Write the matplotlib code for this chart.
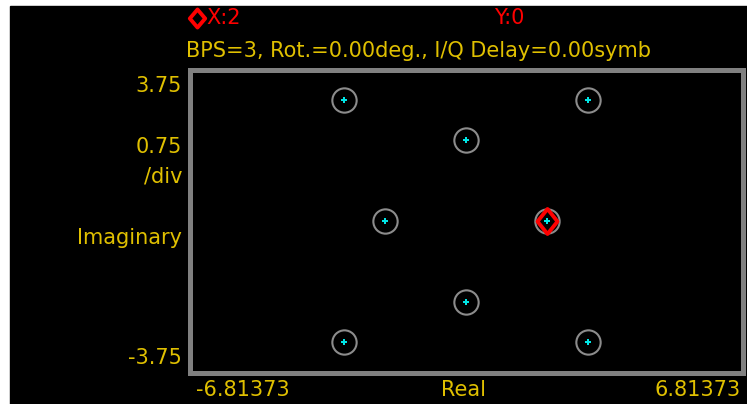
import matplotlib
matplotlib.use("Agg")
import matplotlib.pyplot as plt
from matplotlib.patches import Rectangle
from matplotlib.path import Path

# ── Constellation data (8-QAM, BPS=3) ───────────────────────────────────────
real = [-3, 3, 0, -2, 2, 0, -3, 3]
imag = [3, 3, 2, 0, 0, -2, -3, -3]
marker_x, marker_y = 2, 0
x_lim = 6.81373
y_lim = 3.75
y_div = 0.75

YELLOW = "#E0C000"
RED = "#FF0000"
GRAY = "#808080"
CYAN = "#00E5E5"

plt.rcParams["font.family"] = ["DejaVu Sans"]

W, H = 747, 404
fig = plt.figure(figsize=(W / 100, H / 100), dpi=100, facecolor="white")

def px(x, y):
    return x / W, 1 - y / H

def make_diamond(w):
    return Path([(0, 1), (w, 0), (0, -1), (-w, 0), (0, 1)],
                [Path.MOVETO, Path.LINETO, Path.LINETO, Path.LINETO, Path.CLOSEPOLY])

# black panel behind everything
fig.patches.append(Rectangle((10 / W, 0), 737 / W, 398 / H,
                             transform=fig.transFigure, color="black", zorder=-10))

l, t, r, b = 189.5, 69.5, 742.5, 372.5
ax = fig.add_axes([l / W, 1 - b / H, (r - l) / W, (b - t) / H])
ax.set_facecolor("black")
for s in ax.spines.values():
    s.set_color(GRAY)
    s.set_linewidth(3.6)
ax.set_xlim(-x_lim, x_lim)
ax.set_ylim(-y_lim, y_lim)
ax.set_xticks([])
ax.set_yticks([])

ax.plot(real, imag, linestyle="none", marker="o", markersize=17.5,
        markerfacecolor="none", markeredgecolor="#8C8C8C", markeredgewidth=1.5)
ax.plot([marker_x], [marker_y], linestyle="none", marker=make_diamond(0.8),
        markersize=18, markerfacecolor="none", markeredgecolor=RED,
        markeredgewidth=2.8)
ax.plot(real, imag, linestyle="none", marker="P", markersize=5,
        color=CYAN, markeredgewidth=0)

fs = 15
# header
fig.lines.append(plt.Line2D([px(197, 0)[0]], [px(0, 18)[1]],
                            marker=make_diamond(0.85), markersize=13,
                            markerfacecolor="none", markeredgecolor=RED,
                            markeredgewidth=2.8, transform=fig.transFigure))
fig.text(*px(206, 18), f"X:{marker_x}", color=RED, fontsize=fs, va="center")
fig.text(*px(494, 18), f"Y:{marker_y}", color=RED, fontsize=fs, va="center")
fig.text(*px(186, 51), "BPS=3, Rot.=0.00deg., I/Q Delay=0.00symb",
         color=YELLOW, fontsize=fs, va="center")

# y-side labels
fig.text(*px(182, 86), f"{y_lim:.2f}", color=YELLOW, fontsize=fs, ha="right", va="center")
fig.text(*px(182, 147), f"{y_div:.2f}", color=YELLOW, fontsize=fs, ha="right", va="center")
fig.text(*px(182, 177), "/div", color=YELLOW, fontsize=fs, ha="right", va="center")
fig.text(*px(182, 238), "Imaginary", color=YELLOW, fontsize=fs, ha="right", va="center")
fig.text(*px(182, 358), f"{-y_lim:.2f}", color=YELLOW, fontsize=fs, ha="right", va="center")

# x-side labels
fig.text(*px(196, 390), f"{-x_lim}", color=YELLOW, fontsize=fs, ha="left", va="center")
fig.text(*px(463, 390), "Real", color=YELLOW, fontsize=fs, ha="center", va="center")
fig.text(*px(741, 390), f"{x_lim}", color=YELLOW, fontsize=fs, ha="right", va="center")

fig.savefig("out.png", dpi=100, facecolor="white")
